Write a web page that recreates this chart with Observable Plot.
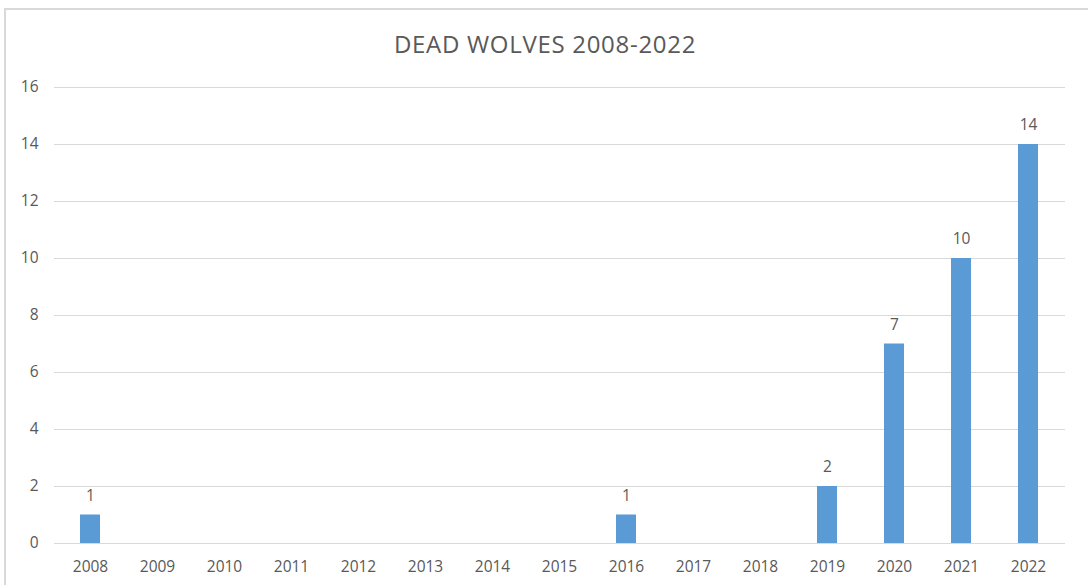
<!DOCTYPE html>
<html>
<head>
<meta charset="utf-8">
<script src="https://cdn.jsdelivr.net/npm/d3@7"></script>
<script src="https://cdn.jsdelivr.net/npm/@observablehq/plot@0.6"></script>
<style>
  html, body { margin: 0; padding: 0; background: #fff; }
  body { width: 1088px; height: 585px; overflow: hidden; position: relative; font-family: "Open Sans", sans-serif; }
  #frame { position: absolute; left: 4px; top: 8px; width: 1200px; height: 700px;
           border-left: 2px solid #d9d9d9; border-top: 2px solid #d9d9d9; box-sizing: border-box; }
  #title { position: absolute; left: 0; top: 0; width: 1090px; height: 70px; line-height: 88px;
           text-align: center; color: #595959; font-size: 24px; letter-spacing: 0.7px; }
  #chart { position: absolute; left: 0; top: 70px; }
</style>
</head>
<body>
<div id="frame"></div>
<div id="title">DEAD WOLVES 2008-2022</div>
<div id="chart"></div>
<script>
// Yearly count of dead wolves
const years = ["2008","2009","2010","2011","2012","2013","2014","2015","2016","2017","2018","2019","2020","2021","2022"];
const deaths = [1, 0, 0, 0, 0, 0, 0, 0, 1, 0, 0, 2, 7, 10, 14];
const yTicks = [0, 2, 4, 6, 8, 10, 12, 14, 16];

const rows = years.map((year, i) => ({year, deaths: deaths[i]}));
const labelled = rows.filter(d => d.deaths > 0);

const chart = Plot.plot({
  width: 1088,
  height: 515,
  marginTop: 17,
  marginBottom: 42,
  marginLeft: 54,
  marginRight: 23,
  style: {fontFamily: "Open Sans, sans-serif", fontSize: "15.5px", color: "#595959", background: "transparent"},
  x: {domain: years, paddingInner: 0.7, paddingOuter: 0.35, label: null},
  y: {domain: [0, 16], ticks: yTicks, label: null},
  marks: [
    Plot.gridY(yTicks, {stroke: "#d9d9d9", strokeOpacity: 1, strokeWidth: 1}),
    Plot.axisY(yTicks, {tickSize: 0, tickPadding: 16, label: null, fill: "#595959", fontSize: 15.5}),
    Plot.axisX({tickSize: 0, tickPadding: 17, label: null, fill: "#595959", fontSize: 15.5}),
    Plot.barY(rows, {x: "year", y: "deaths", fill: "#5b9bd5"}),
    Plot.text(labelled, {x: "year", y: "deaths", text: d => String(d.deaths), dy: -19,
      lineAnchor: "middle", fill: "#595959", fontSize: 15.5})
  ]
});
document.getElementById("chart").appendChild(chart);
</script>
</body>
</html>
